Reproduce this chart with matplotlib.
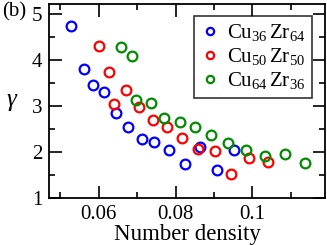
import numpy as np
import matplotlib.pyplot as plt
from matplotlib.ticker import MultipleLocator

plt.rcParams['font.family'] = ['Liberation Serif', 'DejaVu Serif']
plt.rcParams['mathtext.fontset'] = 'custom'
plt.rcParams['mathtext.rm'] = 'Liberation Serif'
plt.rcParams['mathtext.it'] = 'Liberation Serif:italic'

# Cu36Zr64
x36 = [0.0527, 0.0562, 0.0584, 0.0614, 0.0644, 0.0676, 0.0712, 0.0745, 0.0784, 0.0825, 0.0864, 0.0908, 0.0953]
y36 = [4.74, 3.80, 3.46, 3.30, 2.85, 2.55, 2.28, 2.22, 2.06, 1.75, 2.12, 1.61, 2.05]
# Cu50Zr50
x50 = [0.0601, 0.0627, 0.0640, 0.0671, 0.0706, 0.0740, 0.0778, 0.0817, 0.0858, 0.0902, 0.0946, 0.0992, 0.1042]
y50 = [4.30, 3.74, 3.05, 3.35, 2.98, 2.70, 2.55, 2.31, 2.07, 2.02, 1.54, 1.87, 1.80]
# Cu64Zr36
x64 = [0.0659, 0.0686, 0.0698, 0.0735, 0.0770, 0.0811, 0.0851, 0.0892, 0.0937, 0.0984, 0.1034, 0.1085, 0.1138]
y64 = [4.29, 4.09, 3.13, 3.07, 2.75, 2.66, 2.55, 2.37, 2.21, 2.04, 1.93, 1.96, 1.76]

etiquetas = [r'Cu$_{36}$$\,$Zr$_{64}$', r'Cu$_{50}$$\,$Zr$_{50}$', r'Cu$_{64}$$\,$Zr$_{36}$']
colores = ['#0000ff', '#ff0000', '#008c00']

fig = plt.figure(figsize=(3.27, 2.45), dpi=100)
ax = fig.add_axes([0.151, 0.19, 0.843, 0.794])

for xs, ys, c, lab in zip([x36, x50, x64], [y36, y50, y64], colores, etiquetas):
    ax.plot(xs, ys, 'o', mfc='none', mec=c, ms=7, mew=1.6, label=lab)

ax.set_xlim(0.0471, 0.119)
ax.set_ylim(1, 5.217)
ax.set_xticks([0.06, 0.08, 0.1])
ax.set_xticklabels(['0.06', '0.08', '0.1'])
ax.set_yticks([1, 2, 3, 4, 5])
ax.xaxis.set_minor_locator(MultipleLocator(0.01))
ax.yaxis.set_minor_locator(MultipleLocator(0.5))
ax.tick_params(which='both', direction='in', top=True, right=True, width=1.2, labelsize=15)
ax.tick_params(which='major', length=9, pad=5)
ax.tick_params(which='minor', length=4.5)
for s in ax.spines.values():
    s.set_linewidth(1.3)

ax.set_xlabel('Number density', fontsize=16.5, labelpad=0)
ax.set_ylabel(r'$\gamma$', fontsize=18, rotation=0)
ax.yaxis.set_label_coords(-0.135, 0.44)

leg = ax.legend(loc='upper right', bbox_to_anchor=(0.953, 0.938), fontsize=15, frameon=True,
                fancybox=False, edgecolor='black', handletextpad=0.4, borderpad=0.3,
                labelspacing=0.15, handlelength=0.9, borderaxespad=0, markerscale=0.75)
leg.get_frame().set_linewidth(1.2)

fig.text(0.005, 0.95, '(b)', fontsize=15, va='center')

fig.savefig('out.png', dpi=100)
